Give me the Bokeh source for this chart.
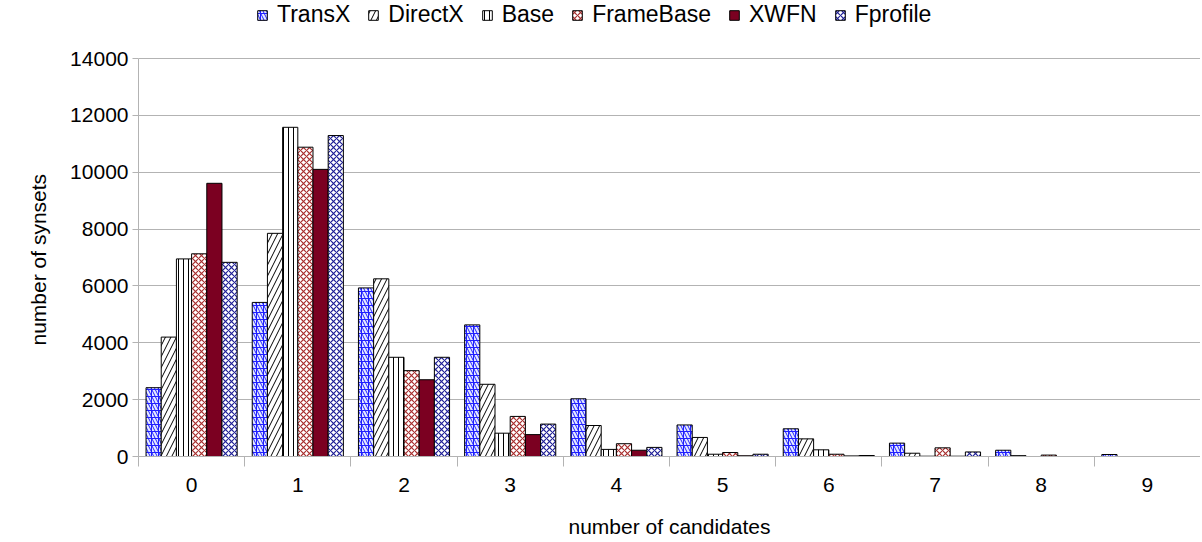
from bokeh.plotting import figure
from bokeh.models import ColumnDataSource, FixedTicker, Range1d, Legend, LegendItem, LinearAxis, Title
from bokeh.transform import dodge
from bokeh.embed import file_html
from bokeh.resources import INLINE

categories = ["0", "1", "2", "3", "4", "5", "6", "7", "8", "9"]
series_names = ["TransX", "DirectX", "Base", "FrameBase", "XWFN", "Fprofile"]
transx = [2420, 5420, 5930, 4630, 2030, 1110, 975, 470, 220, 70]
directx = [4200, 7850, 6250, 2540, 1090, 670, 620, 115, 30, 0]
base = [6950, 11580, 3490, 820, 250, 80, 235, 10, 0, 0]
framebase = [7130, 10880, 3020, 1410, 450, 140, 80, 305, 50, 0]
xwfn = [9610, 10100, 2700, 770, 220, 25, 20, 10, 0, 0]
fprofile = [6830, 11290, 3490, 1140, 320, 80, 35, 160, 0, 0]
y_ticks = [0, 2000, 4000, 6000, 8000, 10000, 12000, 14000]

FONT = "Liberation Sans"
GRID = "#b3b3b3"

src = ColumnDataSource(dict(
    x=list(range(len(categories))),
    TransX=transx, DirectX=directx, Base=base,
    FrameBase=framebase, XWFN=xwfn, Fprofile=fprofile,
))

# frame runs to the top of the canvas so that the legend can sit inside it;
# the value axis is bounded to 0..14000 (14000 lands 58px below the top)
ymax = y_ticks[-1]
FRAME_H = 456
y_end = ymax * FRAME_H / (FRAME_H - 58)

p = figure(width=1200, height=540, output_backend="svg", toolbar_location=None,
           x_range=Range1d(-0.5, len(categories) - 0.5), y_range=Range1d(0, y_end),
           min_border_left=138, min_border_right=0, min_border_top=0, min_border_bottom=84)
p.outline_line_color = None
p.background_fill_color = "white"
p.border_fill_color = "white"

bw = 0.143
styles = {
    "TransX": [dict(fill_color="#e4e8ff", hatch_pattern="cross", hatch_color="#1f1fff",
                    hatch_scale=7, hatch_weight=1),
               dict(fill_alpha=0, hatch_pattern="left_diagonal_line", hatch_color="#1f1fff",
                    hatch_scale=7, hatch_weight=1)],
    "DirectX": [dict(fill_color="white", hatch_pattern="right_diagonal_line", hatch_color="black",
                     hatch_scale=11, hatch_weight=1)],
    "Base": [dict(fill_color="white", hatch_pattern="vertical_line", hatch_color="black",
                  hatch_scale=5, hatch_weight=1)],
    "FrameBase": [dict(fill_color="white", hatch_pattern="diagonal_cross", hatch_color="#a82e2e",
                       hatch_scale=6, hatch_weight=1.2)],
    "XWFN": [dict(fill_color="#7b0021")],
    "Fprofile": [dict(fill_color="white", hatch_pattern="diagonal_cross", hatch_color="#1e1e96",
                      hatch_scale=6, hatch_weight=1.2)],
}

items = []
for i, name in enumerate(series_names):
    off = (i - 2.5) * bw
    rs = []
    for j, st in enumerate(styles[name]):
        lc = "black" if j == len(styles[name]) - 1 else None
        r = p.vbar(x=dodge("x", off, range=p.x_range), top=name, width=bw, bottom=0,
                   source=src, line_color=lc, line_width=1, **st)
        rs.append(r)
    items.append(LegendItem(label=name, renderers=rs))

legend = Legend(items=items, orientation="horizontal", location=(118, FRAME_H - 28),
                label_text_font=FONT, label_text_font_size="23px", label_text_color="black",
                glyph_width=12, glyph_height=12, label_standoff=9, spacing=17,
                padding=0, margin=0, border_line_color=None, background_fill_alpha=0,
                label_height=23)
p.add_layout(legend, "center")

# x axis: labels at category centres, marks at category boundaries
p.xaxis.ticker = FixedTicker(ticks=list(range(len(categories))),
                             minor_ticks=[k - 0.5 for k in range(len(categories) + 1)])
p.xaxis.major_label_overrides = {k: c for k, c in enumerate(categories)}
p.xaxis.major_tick_line_color = None
p.xaxis.major_tick_out = 0
p.xaxis.major_tick_in = 0
p.xaxis.minor_tick_line_color = GRID
p.xaxis.minor_tick_out = 10
p.xaxis.minor_tick_in = 0
p.xaxis.major_label_standoff = 11
p.xaxis.axis_label = "number of candidates"
p.xaxis.axis_label_standoff = 20

p.yaxis.ticker = FixedTicker(ticks=y_ticks)
p.yaxis.bounds = (0, ymax)
p.yaxis.major_tick_line_color = GRID
p.yaxis.major_tick_out = 6
p.yaxis.major_tick_in = 0
p.yaxis.minor_tick_line_color = None
p.yaxis.major_label_standoff = 4

for ax in (p.xaxis[0], p.yaxis[0]):
    ax.axis_line_color = GRID
    ax.major_label_text_font = FONT
    ax.major_label_text_font_size = "21px"
    ax.major_label_text_color = "black"
    ax.axis_label_text_font = FONT
    ax.axis_label_text_font_size = "21px"
    ax.axis_label_text_font_style = "normal"
    ax.axis_label_text_color = "black"

# value-axis title, centred on the 0..14000 part of the frame
ytitle = Title(text="number of synsets", align="left", offset=111, standoff=36,
               text_font=FONT, text_font_size="21px", text_font_style="normal",
               text_color="black")
p.add_layout(ytitle, "left")

# right border of the plot area
right = LinearAxis(bounds=(0, ymax), ticker=FixedTicker(ticks=[]), axis_line_color=GRID,
                   major_tick_line_color=None, minor_tick_line_color=None,
                   major_label_standoff=0, major_tick_out=0, major_tick_in=0)
p.add_layout(right, "right")

p.xgrid.grid_line_color = None
p.ygrid.ticker = FixedTicker(ticks=y_ticks)
p.ygrid.grid_line_color = GRID
p.ygrid.grid_line_width = 1

open("out.html", "w").write(file_html(p, INLINE))
